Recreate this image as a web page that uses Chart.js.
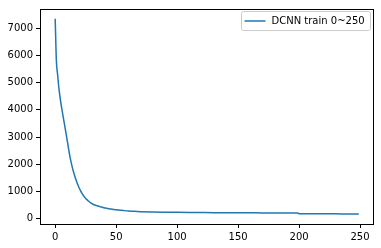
<!DOCTYPE html>
<html><head><meta charset="utf-8">
<script src="https://cdn.jsdelivr.net/npm/chart.js@4/dist/chart.umd.min.js"></script>
<style>html,body{margin:0;padding:0;background:#fff}#c{display:block}</style>
</head><body>
<canvas id="c" width="381" height="248"></canvas>
<script>
const seriesLabel = "DCNN train 0~250";
const epochs = [0,1,2,3,4,5,6,7,8,9,10,11,12,13,14,15,16,17,18,19,20,21,22,23,24,25,26,27,28,29,30,31,32,33,34,35,36,37,38,39,40,42,44,46,48,50,53,56,60,65,70,80,90,100,110,120,130,140,150,160,170,180,190,199,200,210,220,230,240,249];
const loss = [7360,5800,5300,4820,4460,4160,3890,3630,3370,3110,2840,2560,2300,2080,1890,1720,1570,1430,1300,1190,1090,1000,920,850,790,735,690,650,610,575,545,520,500,483,468,453,440,427,414,402,390,372,355,340,327,315,301,287,270,256,246,233,225,219,214,211,208,206,204,202,200,199,197,196,168,166,165,164,163,162];
const xTicks = [0,50,100,150,200,250];
const yTicks = [0,1000,2000,3000,4000,5000,6000,7000];

const points = epochs.map((e,i)=>({x:e,y:loss[i]}));
const tickFont = {family:"DejaVu Sans", size:10};

const frame = {
  id:'frame',
  afterDraw(chart){
    const ctx = chart.ctx, a = chart.chartArea;
    ctx.save();
    ctx.strokeStyle = '#000'; ctx.lineWidth = 1;
    ctx.strokeRect(Math.round(a.left)+0.5, Math.round(a.top)+0.5, Math.round(a.right-a.left)-1, Math.round(a.bottom-a.top));
    const bx = 241.5, by = 11.5, bw = 129, bh = 19;
    ctx.fillStyle = 'rgba(255,255,255,0.8)';
    ctx.strokeStyle = '#cccccc';
    ctx.beginPath();
    if (ctx.roundRect) ctx.roundRect(bx, by, bw, bh, 2); else ctx.rect(bx,by,bw,bh);
    ctx.fill(); ctx.stroke();
    ctx.strokeStyle = '#1f77b4'; ctx.lineWidth = 1.5;
    ctx.beginPath(); ctx.moveTo(bx+3, by+9.5); ctx.lineTo(bx+24, by+9.5); ctx.stroke();
    ctx.fillStyle = '#000'; ctx.font = '10px "DejaVu Sans"'; ctx.textBaseline = 'middle';
    ctx.fillText(seriesLabel, bx+30, by+10);
    ctx.restore();
  }
};

new Chart(document.getElementById('c'), {
  type:'line',
  data:{datasets:[{label:seriesLabel, data:points, borderColor:'#1f77b4', borderWidth:1.5, pointRadius:0, cubicInterpolationMode:'monotone', fill:false}]},
  options:{
    responsive:false, animation:false,
    layout:{padding:{left:0,top:6,right:7,bottom:0}},
    plugins:{legend:{display:false}, tooltip:{enabled:false}},
    scales:{
      x:{type:'linear', min:-12.45, max:261.45,
        afterBuildTicks(s){ s.ticks = xTicks.map(v=>({value:v})); },
        afterFit(s){ s.height = 24; },
        grid:{display:true, drawOnChartArea:false, drawTicks:true, tickLength:4, color:'#000', tickColor:'#000'},
        border:{display:false},
        ticks:{color:'#000', font:tickFont, padding:3, maxRotation:0, autoSkip:false, callback:v=>String(v)}
      },
      y:{type:'linear', min:-210, max:7723,
        afterBuildTicks(s){ s.ticks = yTicks.map(v=>({value:v})); },
        afterFit(s){ s.width = 40; },
        grid:{display:true, drawOnChartArea:false, drawTicks:true, tickLength:4, color:'#000', tickColor:'#000'},
        border:{display:false},
        ticks:{color:'#000', font:tickFont, padding:3, autoSkip:false, callback:v=>String(v)}
      }
    }
  },
  plugins:[frame]
});
</script>
</body></html>
